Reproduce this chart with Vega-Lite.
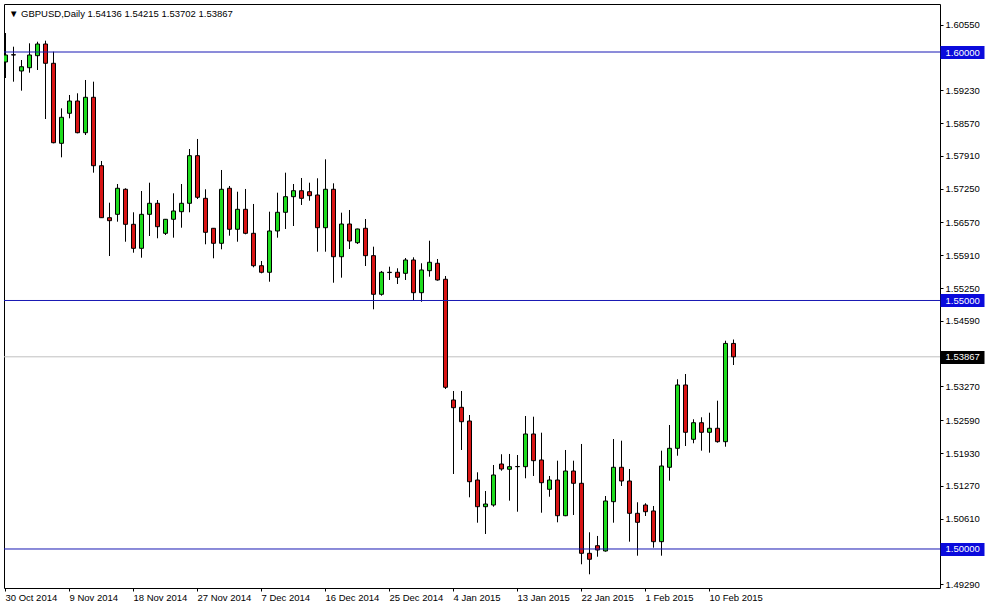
{
  "$schema": "https://vega.github.io/schema/vega-lite/v6.json",
  "width": 936,
  "height": 584,
  "autosize": {"type": "none"},
  "padding": {"left": 4, "top": 4, "right": 45, "bottom": 20},
  "background": "#ffffff",
  "title": {
    "text": "▼ GBPUSD,Daily  1.54136 1.54215 1.53702 1.53867",
    "anchor": "start",
    "frame": "group",
    "orient": "top",
    "offset": -9,
    "baseline": "middle",
    "dx": 5,
    "dy": 10,
    "font": "Liberation Sans",
    "fontSize": 9.5,
    "fontWeight": "normal",
    "color": "#000000"
  },
  "data": {
    "values": [
      {"date": "30 Oct 2014", "open": 1.59799, "high": 1.60382, "low": 1.59477, "close": 1.59940},
      {"date": "31 Oct 2014", "open": 1.59945, "high": 1.60107, "low": 1.59403, "close": 1.59940},
      {"date": "2 Nov 2014", "open": 1.59618, "high": 1.59839, "low": 1.59222, "close": 1.59704},
      {"date": "3 Nov 2014", "open": 1.59684, "high": 1.60175, "low": 1.59584, "close": 1.59940},
      {"date": "4 Nov 2014", "open": 1.59926, "high": 1.60207, "low": 1.59638, "close": 1.60161},
      {"date": "5 Nov 2014", "open": 1.60161, "high": 1.60228, "low": 1.58652, "close": 1.59773},
      {"date": "6 Nov 2014", "open": 1.59773, "high": 1.60006, "low": 1.58163, "close": 1.58175},
      {"date": "7 Nov 2014", "open": 1.58163, "high": 1.58867, "low": 1.57881, "close": 1.58686},
      {"date": "9 Nov 2014", "open": 1.58767, "high": 1.59135, "low": 1.58666, "close": 1.59014},
      {"date": "10 Nov 2014", "open": 1.59014, "high": 1.59169, "low": 1.58364, "close": 1.58376},
      {"date": "11 Nov 2014", "open": 1.58376, "high": 1.59437, "low": 1.58330, "close": 1.59089},
      {"date": "12 Nov 2014", "open": 1.59089, "high": 1.59403, "low": 1.57572, "close": 1.57712},
      {"date": "13 Nov 2014", "open": 1.57712, "high": 1.57807, "low": 1.56660, "close": 1.56666},
      {"date": "14 Nov 2014", "open": 1.56666, "high": 1.56968, "low": 1.55895, "close": 1.56606},
      {"date": "16 Nov 2014", "open": 1.56734, "high": 1.57344, "low": 1.56586, "close": 1.57258},
      {"date": "17 Nov 2014", "open": 1.57238, "high": 1.57258, "low": 1.56183, "close": 1.56533},
      {"date": "18 Nov 2014", "open": 1.56533, "high": 1.56775, "low": 1.55962, "close": 1.56050},
      {"date": "19 Nov 2014", "open": 1.56050, "high": 1.57203, "low": 1.55861, "close": 1.56734},
      {"date": "20 Nov 2014", "open": 1.56734, "high": 1.57370, "low": 1.56298, "close": 1.56956},
      {"date": "21 Nov 2014", "open": 1.56956, "high": 1.57022, "low": 1.56252, "close": 1.56485},
      {"date": "23 Nov 2014", "open": 1.56352, "high": 1.56640, "low": 1.56318, "close": 1.56634},
      {"date": "24 Nov 2014", "open": 1.56634, "high": 1.57157, "low": 1.56264, "close": 1.56801},
      {"date": "25 Nov 2014", "open": 1.56787, "high": 1.57344, "low": 1.56465, "close": 1.56956},
      {"date": "26 Nov 2014", "open": 1.56956, "high": 1.58048, "low": 1.56775, "close": 1.57914},
      {"date": "27 Nov 2014", "open": 1.57914, "high": 1.58250, "low": 1.57042, "close": 1.57077},
      {"date": "28 Nov 2014", "open": 1.57056, "high": 1.57238, "low": 1.56131, "close": 1.56372},
      {"date": "30 Nov 2014", "open": 1.56453, "high": 1.56459, "low": 1.55849, "close": 1.56151},
      {"date": "1 Dec 2014", "open": 1.56151, "high": 1.57626, "low": 1.56030, "close": 1.57238},
      {"date": "2 Dec 2014", "open": 1.57258, "high": 1.57304, "low": 1.56304, "close": 1.56433},
      {"date": "3 Dec 2014", "open": 1.56433, "high": 1.57189, "low": 1.56183, "close": 1.56835},
      {"date": "4 Dec 2014", "open": 1.56835, "high": 1.57244, "low": 1.56332, "close": 1.56352},
      {"date": "5 Dec 2014", "open": 1.56352, "high": 1.56942, "low": 1.55668, "close": 1.55700},
      {"date": "7 Dec 2014", "open": 1.55700, "high": 1.55795, "low": 1.55547, "close": 1.55568},
      {"date": "8 Dec 2014", "open": 1.55568, "high": 1.56787, "low": 1.55378, "close": 1.56399},
      {"date": "9 Dec 2014", "open": 1.56399, "high": 1.57169, "low": 1.56264, "close": 1.56775},
      {"date": "10 Dec 2014", "open": 1.56775, "high": 1.57572, "low": 1.56439, "close": 1.57089},
      {"date": "11 Dec 2014", "open": 1.57089, "high": 1.57344, "low": 1.56499, "close": 1.57209},
      {"date": "12 Dec 2014", "open": 1.57209, "high": 1.57465, "low": 1.56922, "close": 1.57056},
      {"date": "14 Dec 2014", "open": 1.57189, "high": 1.57370, "low": 1.57008, "close": 1.57109},
      {"date": "15 Dec 2014", "open": 1.57123, "high": 1.57459, "low": 1.55982, "close": 1.56465},
      {"date": "16 Dec 2014", "open": 1.56465, "high": 1.57841, "low": 1.55982, "close": 1.57238},
      {"date": "17 Dec 2014", "open": 1.57238, "high": 1.57358, "low": 1.55358, "close": 1.55881},
      {"date": "18 Dec 2014", "open": 1.55881, "high": 1.56767, "low": 1.55459, "close": 1.56539},
      {"date": "19 Dec 2014", "open": 1.56539, "high": 1.56821, "low": 1.56036, "close": 1.56197},
      {"date": "21 Dec 2014", "open": 1.56163, "high": 1.56445, "low": 1.56137, "close": 1.56439},
      {"date": "22 Dec 2014", "open": 1.56453, "high": 1.56640, "low": 1.55694, "close": 1.55902},
      {"date": "23 Dec 2014", "open": 1.55902, "high": 1.56083, "low": 1.54823, "close": 1.55125},
      {"date": "24 Dec 2014", "open": 1.55125, "high": 1.55594, "low": 1.55097, "close": 1.55568},
      {"date": "25 Dec 2014", "open": 1.55562, "high": 1.55680, "low": 1.55413, "close": 1.55568},
      {"date": "26 Dec 2014", "open": 1.55568, "high": 1.55648, "low": 1.55332, "close": 1.55467},
      {"date": "28 Dec 2014", "open": 1.55547, "high": 1.55855, "low": 1.55413, "close": 1.55815},
      {"date": "29 Dec 2014", "open": 1.55815, "high": 1.55869, "low": 1.54996, "close": 1.55157},
      {"date": "30 Dec 2014", "open": 1.55157, "high": 1.55749, "low": 1.54976, "close": 1.55614},
      {"date": "31 Dec 2014", "open": 1.55600, "high": 1.56203, "low": 1.55479, "close": 1.55769},
      {"date": "1 Jan 2015", "open": 1.55749, "high": 1.55835, "low": 1.55399, "close": 1.55413},
      {"date": "2 Jan 2015", "open": 1.55427, "high": 1.55493, "low": 1.53219, "close": 1.53254},
      {"date": "4 Jan 2015", "open": 1.52998, "high": 1.53179, "low": 1.51509, "close": 1.52843},
      {"date": "5 Jan 2015", "open": 1.52851, "high": 1.53179, "low": 1.51992, "close": 1.52561},
      {"date": "6 Jan 2015", "open": 1.52575, "high": 1.52696, "low": 1.51040, "close": 1.51354},
      {"date": "7 Jan 2015", "open": 1.51388, "high": 1.51543, "low": 1.50529, "close": 1.50851},
      {"date": "8 Jan 2015", "open": 1.50851, "high": 1.51167, "low": 1.50302, "close": 1.50905},
      {"date": "9 Jan 2015", "open": 1.50885, "high": 1.51690, "low": 1.50851, "close": 1.51489},
      {"date": "11 Jan 2015", "open": 1.51710, "high": 1.51906, "low": 1.51575, "close": 1.51610},
      {"date": "12 Jan 2015", "open": 1.51604, "high": 1.51912, "low": 1.50972, "close": 1.51656},
      {"date": "13 Jan 2015", "open": 1.51660, "high": 1.51891, "low": 1.50750, "close": 1.51656},
      {"date": "14 Jan 2015", "open": 1.51656, "high": 1.52676, "low": 1.51423, "close": 1.52314},
      {"date": "15 Jan 2015", "open": 1.52314, "high": 1.52662, "low": 1.51469, "close": 1.51777},
      {"date": "16 Jan 2015", "open": 1.51791, "high": 1.52340, "low": 1.50730, "close": 1.51334},
      {"date": "18 Jan 2015", "open": 1.51201, "high": 1.51469, "low": 1.51052, "close": 1.51388},
      {"date": "19 Jan 2015", "open": 1.51388, "high": 1.51777, "low": 1.50537, "close": 1.50670},
      {"date": "20 Jan 2015", "open": 1.50670, "high": 1.51992, "low": 1.50660, "close": 1.51569},
      {"date": "21 Jan 2015", "open": 1.51569, "high": 1.51777, "low": 1.50684, "close": 1.51322},
      {"date": "22 Jan 2015", "open": 1.51322, "high": 1.52113, "low": 1.49692, "close": 1.49913},
      {"date": "23 Jan 2015", "open": 1.49913, "high": 1.50336, "low": 1.49491, "close": 1.49793},
      {"date": "25 Jan 2015", "open": 1.50066, "high": 1.50262, "low": 1.49845, "close": 1.49980},
      {"date": "26 Jan 2015", "open": 1.49960, "high": 1.51066, "low": 1.49946, "close": 1.50966},
      {"date": "27 Jan 2015", "open": 1.50952, "high": 1.52213, "low": 1.50529, "close": 1.51644},
      {"date": "28 Jan 2015", "open": 1.51644, "high": 1.52179, "low": 1.51268, "close": 1.51368},
      {"date": "29 Jan 2015", "open": 1.51368, "high": 1.51610, "low": 1.50147, "close": 1.50718},
      {"date": "30 Jan 2015", "open": 1.50718, "high": 1.50940, "low": 1.49865, "close": 1.50537},
      {"date": "1 Feb 2015", "open": 1.50885, "high": 1.50920, "low": 1.50664, "close": 1.50750},
      {"date": "2 Feb 2015", "open": 1.50765, "high": 1.50865, "low": 1.50026, "close": 1.50147},
      {"date": "3 Feb 2015", "open": 1.50147, "high": 1.51978, "low": 1.49865, "close": 1.51670},
      {"date": "4 Feb 2015", "open": 1.51644, "high": 1.52495, "low": 1.51374, "close": 1.52026},
      {"date": "5 Feb 2015", "open": 1.52026, "high": 1.53415, "low": 1.51877, "close": 1.53300},
      {"date": "6 Feb 2015", "open": 1.53300, "high": 1.53521, "low": 1.52072, "close": 1.52348},
      {"date": "8 Feb 2015", "open": 1.52207, "high": 1.52610, "low": 1.52127, "close": 1.52541},
      {"date": "9 Feb 2015", "open": 1.52541, "high": 1.52650, "low": 1.51978, "close": 1.52348},
      {"date": "10 Feb 2015", "open": 1.52348, "high": 1.52742, "low": 1.51938, "close": 1.52429},
      {"date": "11 Feb 2015", "open": 1.52429, "high": 1.52984, "low": 1.52139, "close": 1.52159},
      {"date": "12 Feb 2015", "open": 1.52159, "high": 1.54191, "low": 1.52058, "close": 1.54136},
      {"date": "13 Feb 2015", "open": 1.54136, "high": 1.54215, "low": 1.53702, "close": 1.53867}
    ]
  },
  "encoding": {
    "x": {
      "field": "date",
      "type": "ordinal",
      "sort": null,
      "scale": {"range": [-2.5, 733.5], "paddingInner": 0, "paddingOuter": 0},
      "axis": {
        "values": ["30 Oct 2014", "9 Nov 2014", "18 Nov 2014", "27 Nov 2014", "7 Dec 2014", "16 Dec 2014", "25 Dec 2014", "4 Jan 2015", "13 Jan 2015", "22 Jan 2015", "1 Feb 2015", "10 Feb 2015"],
        "title": null,
        "domain": false,
        "grid": false,
        "bandPosition": 0.5,
        "tickSize": 3,
        "tickColor": "#000000",
        "labelAngle": 0,
        "labelAlign": "left",
        "labelBaseline": "top",
        "labelPadding": 1,
        "labelDx": 1,
        "labelOverlap": false,
        "labelFlush": false,
        "labelColor": "#000000"
      }
    },
    "y": {
      "type": "quantitative",
      "scale": {"domain": [1.49215, 1.60966], "zero": false, "nice": false},
      "axis": {
        "orient": "right",
        "title": null,
        "domain": false,
        "grid": false,
        "format": ".5f",
        "values": [1.4929, 1.5, 1.5061, 1.5127, 1.5193, 1.5259, 1.5327, 1.53867, 1.5459, 1.55, 1.5525, 1.5591, 1.5657, 1.5725, 1.5791, 1.5857, 1.5923, 1.6, 1.6055],
        "labelOverlap": false,
        "labelFlush": false,
        "labelBaseline": "middle",
        "tickColor": {"condition": [{"test": "datum.value == 1.6 || datum.value == 1.55 || datum.value == 1.5", "value": "#0A0ADC"}], "value": "#000000"},
        "tickSize": {"condition": {"test": "datum.value == 1.6 || datum.value == 1.55 || datum.value == 1.5 || datum.value == 1.53867", "value": 44}, "value": 3},
        "tickWidth": {"condition": {"test": "datum.value == 1.6 || datum.value == 1.55 || datum.value == 1.5 || datum.value == 1.53867", "value": 13}, "value": 1},
        "labelColor": {"condition": {"test": "datum.value == 1.6 || datum.value == 1.55 || datum.value == 1.5 || datum.value == 1.53867", "value": "#ffffff"}, "value": "#000000"},
        "labelPadding": {"condition": {"test": "datum.value == 1.6 || datum.value == 1.55 || datum.value == 1.5 || datum.value == 1.53867", "value": -39}, "value": 2}
      }
    }
  },
  "layer": [
    {
      "data": {"values": [{"price": 1.53867}]},
      "mark": {"type": "rule", "color": "#C0C0C0", "strokeWidth": 1},
      "encoding": {"y": {"field": "price", "type": "quantitative"}, "x": null}
    },
    {
      "mark": {"type": "rule", "color": "#000000", "strokeWidth": 1, "clip": true},
      "encoding": {
        "y": {"field": "low", "type": "quantitative"},
        "y2": {"field": "high"}
      }
    },
    {
      "mark": {"type": "bar", "width": 4, "stroke": "#000000", "strokeWidth": 1, "clip": true},
      "encoding": {
        "y": {"field": "open", "type": "quantitative"},
        "y2": {"field": "close"},
        "fill": {"condition": {"test": "datum.close > datum.open", "value": "#1EDC1E"}, "value": "#D81414"}
      }
    },
    {
      "data": {"values": [{"price": 1.6}, {"price": 1.55}, {"price": 1.5}]},
      "mark": {"type": "rule", "color": "#1818B4", "strokeWidth": 1},
      "encoding": {"y": {"field": "price", "type": "quantitative"}, "x": null}
    }
  ],
  "config": {
    "view": {"stroke": "#000000", "strokeWidth": 1},
    "font": "Liberation Sans",
    "axis": {"labelFont": "Liberation Sans", "labelFontSize": 9.5}
  }
}
